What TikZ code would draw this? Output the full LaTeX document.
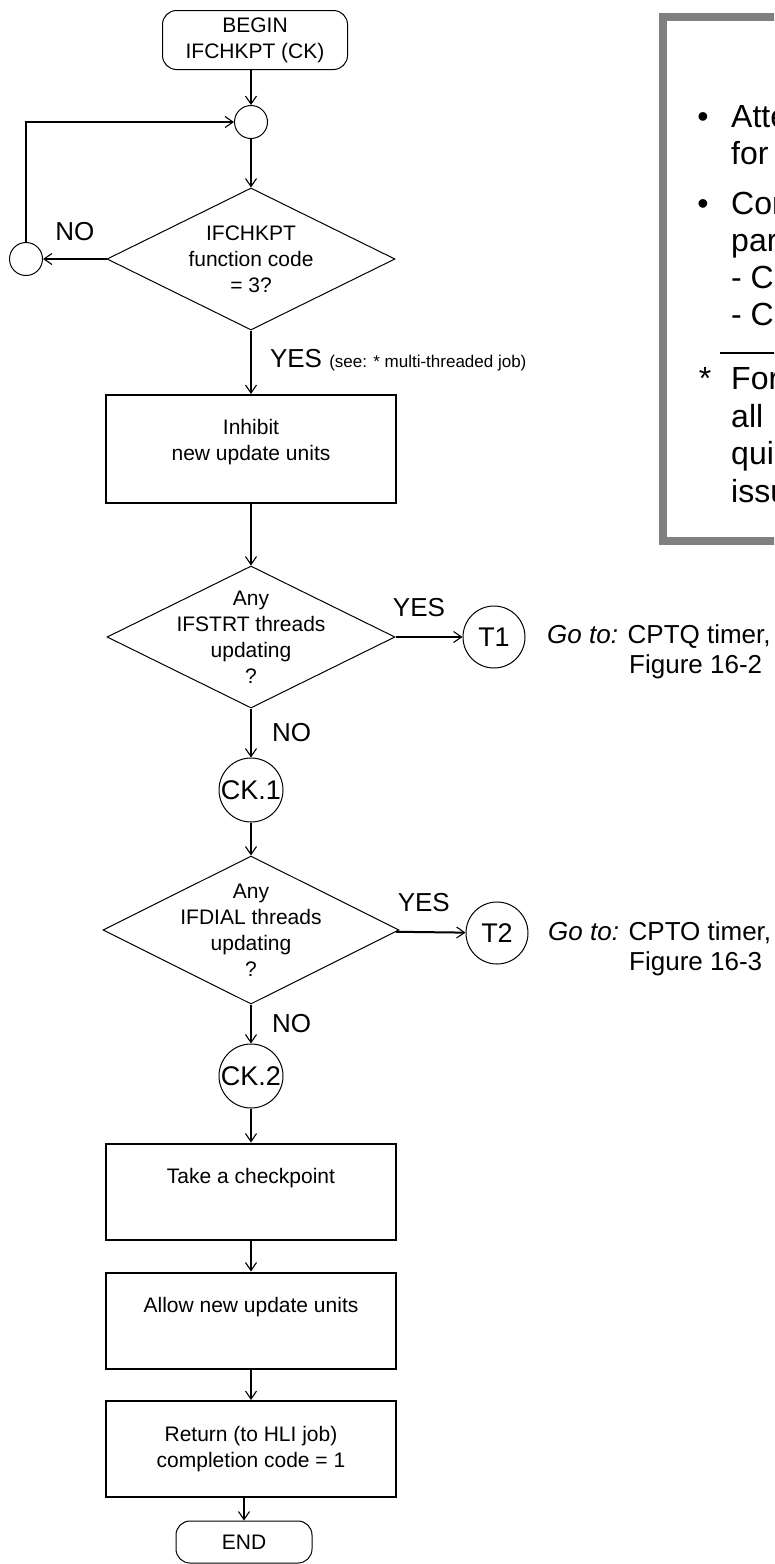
\documentclass[tikz,border=0pt]{standalone}
\usepackage{fontspec}
\setmainfont{Liberation Sans}
\usetikzlibrary{shapes.geometric,arrows.meta}

\tikzset{
  flow/.style={draw, line width=2pt, -{Straight Barb[length=8pt,width=11pt,line width=1.1pt]}},
  term/.style={draw, line width=1pt, rounded corners=14pt, minimum width=185pt, minimum height=59pt,
    align=center, inner sep=0pt, font=\fontsize{21}{26}\selectfont},
  procbox/.style={draw, line width=2pt, minimum width=290pt, minimum height=96pt, inner sep=0pt},
  boxtext/.style={align=center, inner sep=0pt, font=\fontsize{21}{26}\selectfont},
  decision/.style={draw, diamond, line width=1pt, minimum width=288pt, minimum height=142pt, inner sep=0pt},
  conn/.style={draw, circle, line width=1pt, minimum size=33pt, inner sep=0pt},
  offpage/.style={draw, circle, line width=1pt, minimum size=62pt, inner sep=0pt, font=\fontsize{27}{32}\selectfont},
  lbl/.style={inner sep=0pt, font=\fontsize{26}{30}\selectfont},
  note/.style={anchor=base west, inner sep=0pt, font=\fontsize{32}{37}\selectfont}
}

\begin{document}
\begin{tikzpicture}[x=1pt,y=-1pt]
\useasboundingbox (0,0) rectangle (774,1564);

% main column
\node[term] (beginn) at (255,40) {BEGIN\\IFCHKPT (CK)};
\node[conn] (c0) at (251,122) {};
\node[decision, label={[boxtext]center:{IFCHKPT\\function code\\= 3?}}] (ifck) at (251,259) {};
\node[conn] (loopc) at (26,259) {};
\node[procbox, minimum height=108pt, label={[boxtext,yshift=7pt]center:{Inhibit\\new update units}}] (inhibit) at (251,449) {};
\node[decision, label={[boxtext]center:{Any\\IFSTRT threads\\updating\\?}}] (strt) at (251,637) {};
\node[offpage] (t1) at (494,637) {T1};
\node[offpage, minimum size=64pt] (ck1) at (251,790) {CK.1};
\node[decision, minimum width=296pt, minimum height=148pt, label={[boxtext]center:{Any\\IFDIAL threads\\updating\\?}}] (dial) at (251,930) {};
\node[offpage] (t2) at (497,933) {T2};
\node[offpage, minimum size=64pt] (ck2) at (251,1076) {CK.2};
\node[procbox, label={[boxtext,yshift=13pt]center:{Take a checkpoint}}] (take) at (251,1191.5) {};
\node[procbox, label={[boxtext,yshift=13pt]center:{Allow new update units}}] (allow) at (251,1320.5) {};
\node[procbox, label={[boxtext]center:{Return (to HLI job)\\completion code = 1}}] (ret) at (251,1449) {};
\node[term, minimum width=136pt, minimum height=42pt] (endn) at (244,1542) {END};

% off-page references
\node[lbl, anchor=north west, align=left] (goto1) at (547,624) {\textit{Go to:} CPTQ timer,\\\hspace*{82pt}Figure 16-2};
\node[lbl, anchor=north west, align=left] (goto2) at (548,921) {\textit{Go to:} CPTO timer,\\\hspace*{81pt}Figure 16-3};

% connectors
\draw[flow] (c0 |- beginn.south) -- (c0);
\draw[flow] (c0) -- (ifck);
\draw[flow] (ifck) -- node[lbl, above=17pt] (no1) {NO} (loopc);
\draw[flow] (loopc) |- (c0);
\draw[flow] (ifck) -- node[lbl, right=18pt, yshift=2pt] (yes1) {YES {\fontsize{17}{20}\selectfont (see: * multi-threaded job)}} (inhibit);
\draw[flow] (inhibit) -- (strt);
\draw[flow] (strt) -- node[lbl, above=19pt, pos=0.35] (yes2) {YES} (t1);
\draw[flow] (strt) -- node[lbl, right=20pt] (no2) {NO} (ck1);
\draw[flow] (ck1) -- (dial);
\draw[flow] (dial) -- node[lbl, above=19pt, pos=0.4] (yes3) {YES} (t2);
\draw[flow] (dial) -- node[lbl, right=20pt] (no3) {NO} (ck2);
\draw[flow] (ck2) -- (take);
\draw[flow] (take) -- (allow);
\draw[flow] (allow) -- (ret);
\draw[flow] (ret.south -| endn) -- (endn);

% note box, cut at the right edge
\begin{scope}
\clip (0,0) rectangle (774,1564);
\draw[gray, line width=8pt] (663,17) rectangle (800,541);
\foreach \txt/\yy [count=\i] in {Atte/127, for/164, Con/214, par/251, - C/288, - C/325, For/389, all/427, qui/464.5, issu/502}
  \node[note] (note\i) at (731,\yy) {\txt};
\node[note, anchor=base] (bul1) at (703,127) {•};
\node[note, anchor=base] (bul2) at (703,214) {•};
\node[note, anchor=base] (star) at (705,389) {*};
\draw[line width=1.5pt] (720,353) -- (790,353);
\end{scope}
\end{tikzpicture}
\end{document}
